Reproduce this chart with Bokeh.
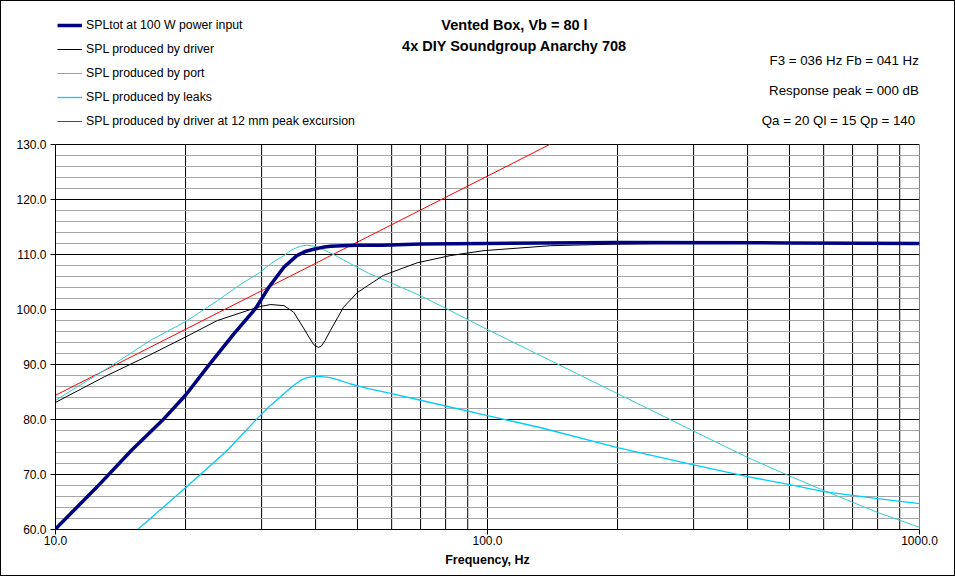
from bokeh.plotting import figure
from bokeh.models import (FixedTicker, PrintfTickFormatter, Label, Legend, LegendItem, Range1d)
from bokeh.embed import file_html
from bokeh.resources import INLINE

# ---------------- data ----------------
tot_f = [10, 12.5, 15, 17.66, 20, 22.6, 25.9, 29.0, 31.2, 33.8, 36.2, 38, 39.8, 41.5, 43.3, 46, 50, 57, 70, 98, 200, 500, 1000]
tot_db = [60.1, 67.8, 74.4, 79.8, 84.4, 89.8, 95.6, 100.1, 104.1, 107.7, 109.8, 110.6, 111.0, 111.3, 111.5, 111.6, 111.7, 111.7, 111.9, 112.0, 112.2, 112.1, 112.0]

drv_f = [10, 13, 16.6, 20, 23.7, 28.3, 30, 31.5, 33.8, 35.6, 37.6, 38.6, 39.6, 40.6, 41.3, 42.1, 43.3, 46.4, 50, 57.4, 68.8, 82, 98, 140, 200, 300, 500, 1000]
drv_db = [83.1, 87.8, 91.8, 95.0, 98.0, 100.0, 100.6, 100.9, 100.7, 99.5, 96.5, 95.0, 93.6, 93.1, 93.4, 94.4, 96.2, 100.4, 103.1, 106.2, 108.5, 109.8, 110.7, 111.6, 111.9, 112.1, 112.1, 112.0]

port_f = [10, 13, 16.6, 20, 23.7, 26.5, 29.8, 31.7, 33.8, 35.3, 36.9, 38.2, 39.6, 41, 42.5, 45, 48, 53, 59.6, 70, 82, 98, 132.7, 200, 298, 400, 498, 600, 800, 1000]
port_db = [83.5, 89.0, 94.4, 97.8, 101.6, 104.3, 106.8, 108.5, 109.8, 110.9, 111.5, 111.7, 111.5, 111.1, 110.6, 109.6, 108.4, 106.6, 104.9, 102.5, 99.8, 96.7, 91.6, 84.7, 78.0, 73.1, 69.8, 67.1, 63.1, 60.4]

leak_f = [15.5, 20, 25, 29, 31.3, 33.8, 35.3, 36.9, 38.2, 39.6, 41.3, 43.3, 45.5, 48, 53, 60, 70, 100, 133, 200, 298, 400, 498, 600, 800, 1000]
leak_db = [60.0, 67.6, 74.4, 79.8, 82.4, 84.7, 86.0, 87.1, 87.6, 87.8, 87.8, 87.6, 87.1, 86.5, 85.6, 84.7, 83.5, 80.7, 78.5, 74.9, 71.8, 69.6, 68.2, 66.9, 65.6, 64.7]

xmax_f = [10, 20, 40, 80, 139.3]
xmax_db = [84.4, 96.4, 108.4, 120.4, 130.0]

x_tick_values = [10, 100, 1000]
x_grid_values = [10, 20, 30, 40, 50, 60, 70, 80, 90, 100, 200, 300, 400, 500, 600, 700, 800, 900, 1000]
y_major = [60, 70, 80, 90, 100, 110, 120, 130]
y_minor = [v for v in range(60, 131, 2) if v % 10 != 0]
y_top = 156  # headroom above the 130 dB line for legend and titles

title_lines = ["Vented Box, Vb = 80 l", "4x DIY Soundgroup Anarchy 708"]
info_lines = ["F3 = 036 Hz  Fb = 041 Hz", "Response  peak = 000 dB", "Qa = 20  Ql = 15  Qp = 140"]
legend_labels = ["SPLtot at 100 W power input", "SPL produced by driver", "SPL produced by port",
                 "SPL produced by leaks", "SPL produced by driver at 12 mm peak excursion"]
x_title = "Frequency, Hz"

FONT = "Liberation Sans"

# ---------------- figure ----------------
W, H = 955, 576
p = figure(width=W, height=H, x_axis_type="log", output_backend="svg", toolbar_location=None,
           x_range=Range1d(10, 1000), y_range=Range1d(y_major[0], y_top),
           min_border_left=54, min_border_right=37, min_border_top=0, min_border_bottom=48)
p.background_fill_color = "white"
p.border_fill_color = "white"
p.outline_line_color = None
p.styles = {"border": "1px solid black", "box-sizing": "border-box"}

# axes
p.xaxis.ticker = FixedTicker(ticks=x_tick_values)
p.xaxis.formatter = PrintfTickFormatter(format="%.1f")
p.yaxis.ticker = FixedTicker(ticks=y_major)
p.yaxis.formatter = PrintfTickFormatter(format="%.1f")
p.yaxis.bounds = (y_major[0], y_major[-1])
for ax in (p.xaxis[0], p.yaxis[0]):
    ax.axis_line_color = "black"
    ax.major_tick_line_color = "black"
    ax.major_tick_out = 5
    ax.major_tick_in = 0
    ax.minor_tick_line_color = None
    ax.major_label_text_font = FONT
    ax.major_label_text_font_size = "12px"
    ax.major_label_text_color = "black"
p.xaxis.major_label_standoff = 1
p.yaxis.major_label_standoff = 4
p.xaxis.axis_label = x_title
p.xaxis.axis_label_text_font = FONT
p.xaxis.axis_label_text_font_size = "12.5px"
p.xaxis.axis_label_text_font_style = "bold"
p.xaxis.axis_label_text_color = "black"
p.xaxis.axis_label_standoff = 5

# grids
p.xgrid.grid_line_color = None
p.ygrid.ticker = FixedTicker(ticks=y_major, minor_ticks=y_minor)
p.ygrid.grid_line_color = "black"
p.ygrid.grid_line_width = 1
p.ygrid.minor_grid_line_color = "#a6a6a6"
p.ygrid.minor_grid_line_width = 1
# vertical grid lines limited to the 60..130 dB plot box
p.segment(x0=x_grid_values, y0=[y_major[0]] * len(x_grid_values),
          x1=x_grid_values, y1=[y_major[-1]] * len(x_grid_values),
          line_color="black", line_width=1, level="underlay")

# curves
r_xmax = p.line(xmax_f, xmax_db, line_color="#ff0000", line_width=1)
r_leak = p.line(leak_f, leak_db, line_color="#00ccff", line_width=1.3)
r_port = p.line(port_f, port_db, line_color="#33cccc", line_width=1)
r_drv = p.line(drv_f, drv_db, line_color="black", line_width=1)
r_tot = p.line(tot_f, tot_db, line_color="#000080", line_width=3.5)

legend = Legend(items=[LegendItem(label=legend_labels[0], renderers=[r_tot]),
                       LegendItem(label=legend_labels[1], renderers=[r_drv]),
                       LegendItem(label=legend_labels[2], renderers=[r_port]),
                       LegendItem(label=legend_labels[3], renderers=[r_leak]),
                       LegendItem(label=legend_labels[4], renderers=[r_xmax])],
                location=(2, 398), padding=0, margin=0, spacing=4,
                glyph_width=25, glyph_height=20, label_height=20, label_standoff=4,
                label_text_font=FONT, label_text_font_size="12.3px", label_text_color="black",
                border_line_alpha=0, background_fill_alpha=0)
p.add_layout(legend)

# texts, positioned in screen px relative to the frame's bottom-left (60 dB / 10 Hz corner)
FRAME_LEFT_PAGE = 55
FRAME_BOTTOM_PAGE = 529

def sx(page_x):
    return page_x - FRAME_LEFT_PAGE

def sy(page_y):
    return FRAME_BOTTOM_PAGE - page_y

for t, yy in zip(title_lines, [24, 45]):
    p.add_layout(Label(x=sx(514), y=sy(yy), x_units="screen", y_units="screen", text=t,
                       text_align="center", text_baseline="middle", text_font=FONT,
                       text_font_size="14.5px", text_font_style="bold", text_color="black"))

for t, yy in zip(info_lines, [60, 90, 120]):
    p.add_layout(Label(x=sx(922), y=sy(yy), x_units="screen", y_units="screen", text=t,
                       text_align="right", text_baseline="middle", text_font=FONT,
                       text_font_size="13.3px", text_color="black"))

open("out.html", "w").write(file_html(p, INLINE))
